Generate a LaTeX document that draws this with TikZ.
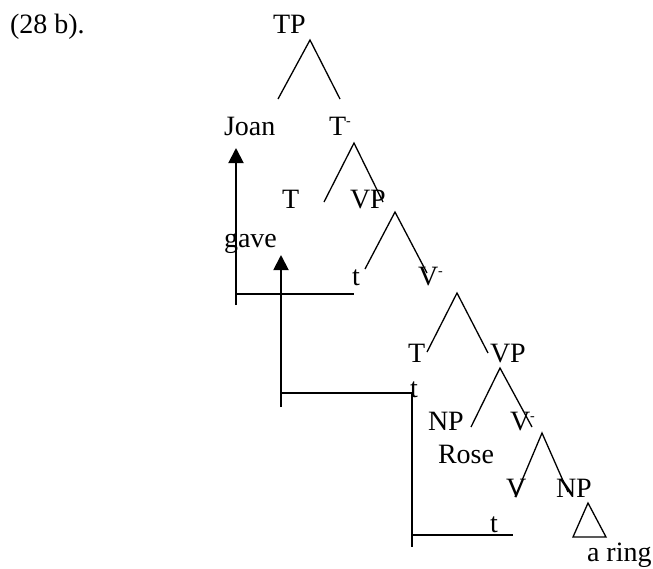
\documentclass[tikz,border=0pt]{standalone}
\usepackage{fontspec}
\setmainfont{Liberation Serif}
\usetikzlibrary{arrows.meta}
\tikzset{
  lbl/.style={anchor=base west, inner sep=0pt, outer sep=0pt, font=\fontsize{28}{32}\selectfont},
  branch/.style={line width=1.3pt},
  trace/.style={line width=1.4pt},
  move/.style={line width=1.9pt, -{Triangle[width=15pt,length=15pt]}},
}
\newcommand{\bartxt}[1]{#1\textsuperscript{\fontsize{14}{14}\selectfont -}}
\begin{document}
\begin{tikzpicture}[x=1pt,y=-1pt]
\useasboundingbox (0,0) rectangle (653,568);
% text nodes
\node[lbl] (ex) at (10,33) {(28 b).};
\node[lbl] (TP) at (273,33) {TP};
\node[lbl] (Joan) at (224,135) {Joan};
\node[lbl] (Tbar) at (329,135) {\bartxt{T}};
\node[lbl] (T1) at (282,208) {T};
\node[lbl] (VP1) at (350,208) {VP};
\node[lbl] (gave) at (224,247) {gave};
\node[lbl] (t1) at (352,285) {t};
\node[lbl] (Vbar1) at (418,285) {\bartxt{V}};
\node[lbl] (T2) at (408,362) {T};
\node[lbl] (VP2) at (490,362) {VP};
\node[lbl] (t2) at (410,397) {t};
\node[lbl] (NP1) at (428,430) {NP};
\node[lbl] (Vbar2) at (510,430) {\bartxt{V}};
\node[lbl] (Rose) at (438,463) {Rose};
\node[lbl] (V) at (506,497) {V};
\node[lbl] (NP2) at (556,497) {NP};
\node[lbl] (t3) at (490,532) {t};
\node[lbl] (aring) at (587,561) {a ring};
% branch coordinates
\coordinate (aTP) at (310,40);
\coordinate (lTP) at (278,99);
\coordinate (rTP) at (340,99);
\coordinate (aTb) at (354,143);
\coordinate (lTb) at (324,202);
\coordinate (rTb) at (383,202);
\coordinate (aVP1) at (395,212);
\coordinate (lVP1) at (365,269);
\coordinate (rVP1) at (427,273);
\coordinate (aVb1) at (457,293);
\coordinate (lVb1) at (427,352);
\coordinate (rVb1) at (488,353);
\coordinate (aVP2) at (500,368);
\coordinate (lVP2) at (471,427);
\coordinate (rVP2) at (532,427);
\coordinate (aVb2) at (542,433);
\coordinate (lVb2) at (515,497);
\coordinate (rVb2) at (568,492);
\coordinate (tri1) at (588,503);
\coordinate (tri2) at (573,537);
\coordinate (tri3) at (606,537);
\draw[branch] (lTP) -- (aTP) -- (rTP);
\draw[branch] (lTb) -- (aTb) -- (rTb);
\draw[branch] (lVP1) -- (aVP1) -- (rVP1);
\draw[branch] (lVb1) -- (aVb1) -- (rVb1);
\draw[branch] (lVP2) -- (aVP2) -- (rVP2);
\draw[branch] (lVb2) -- (aVb2) -- (rVb2);
\draw[branch] (tri1) -- (tri2) -- (tri3) -- cycle;
% movement lines
\coordinate (m1bot) at (236,305);
\coordinate (m1tip) at (236,148);
\coordinate (m1h) at (236,294);
\coordinate (m1end) at (354,294);
\draw[move] (m1bot) -- (m1tip);
\draw[trace] (m1h) -- (m1end);
\coordinate (m2bot) at (281,407);
\coordinate (m2tip) at (281,255);
\coordinate (m2h) at (281,393);
\coordinate (m2end) at (412,393);
\draw[move] (m2bot) -- (m2tip);
\draw[trace] (m2h) -- (m2end);
\coordinate (m3top) at (412,393);
\coordinate (m3bot) at (412,547);
\coordinate (m3h) at (412,535);
\coordinate (m3end) at (513,535);
\draw[trace] (m3top) -- (m3bot);
\draw[trace] (m3h) -- (m3end);
\end{tikzpicture}
\end{document}
